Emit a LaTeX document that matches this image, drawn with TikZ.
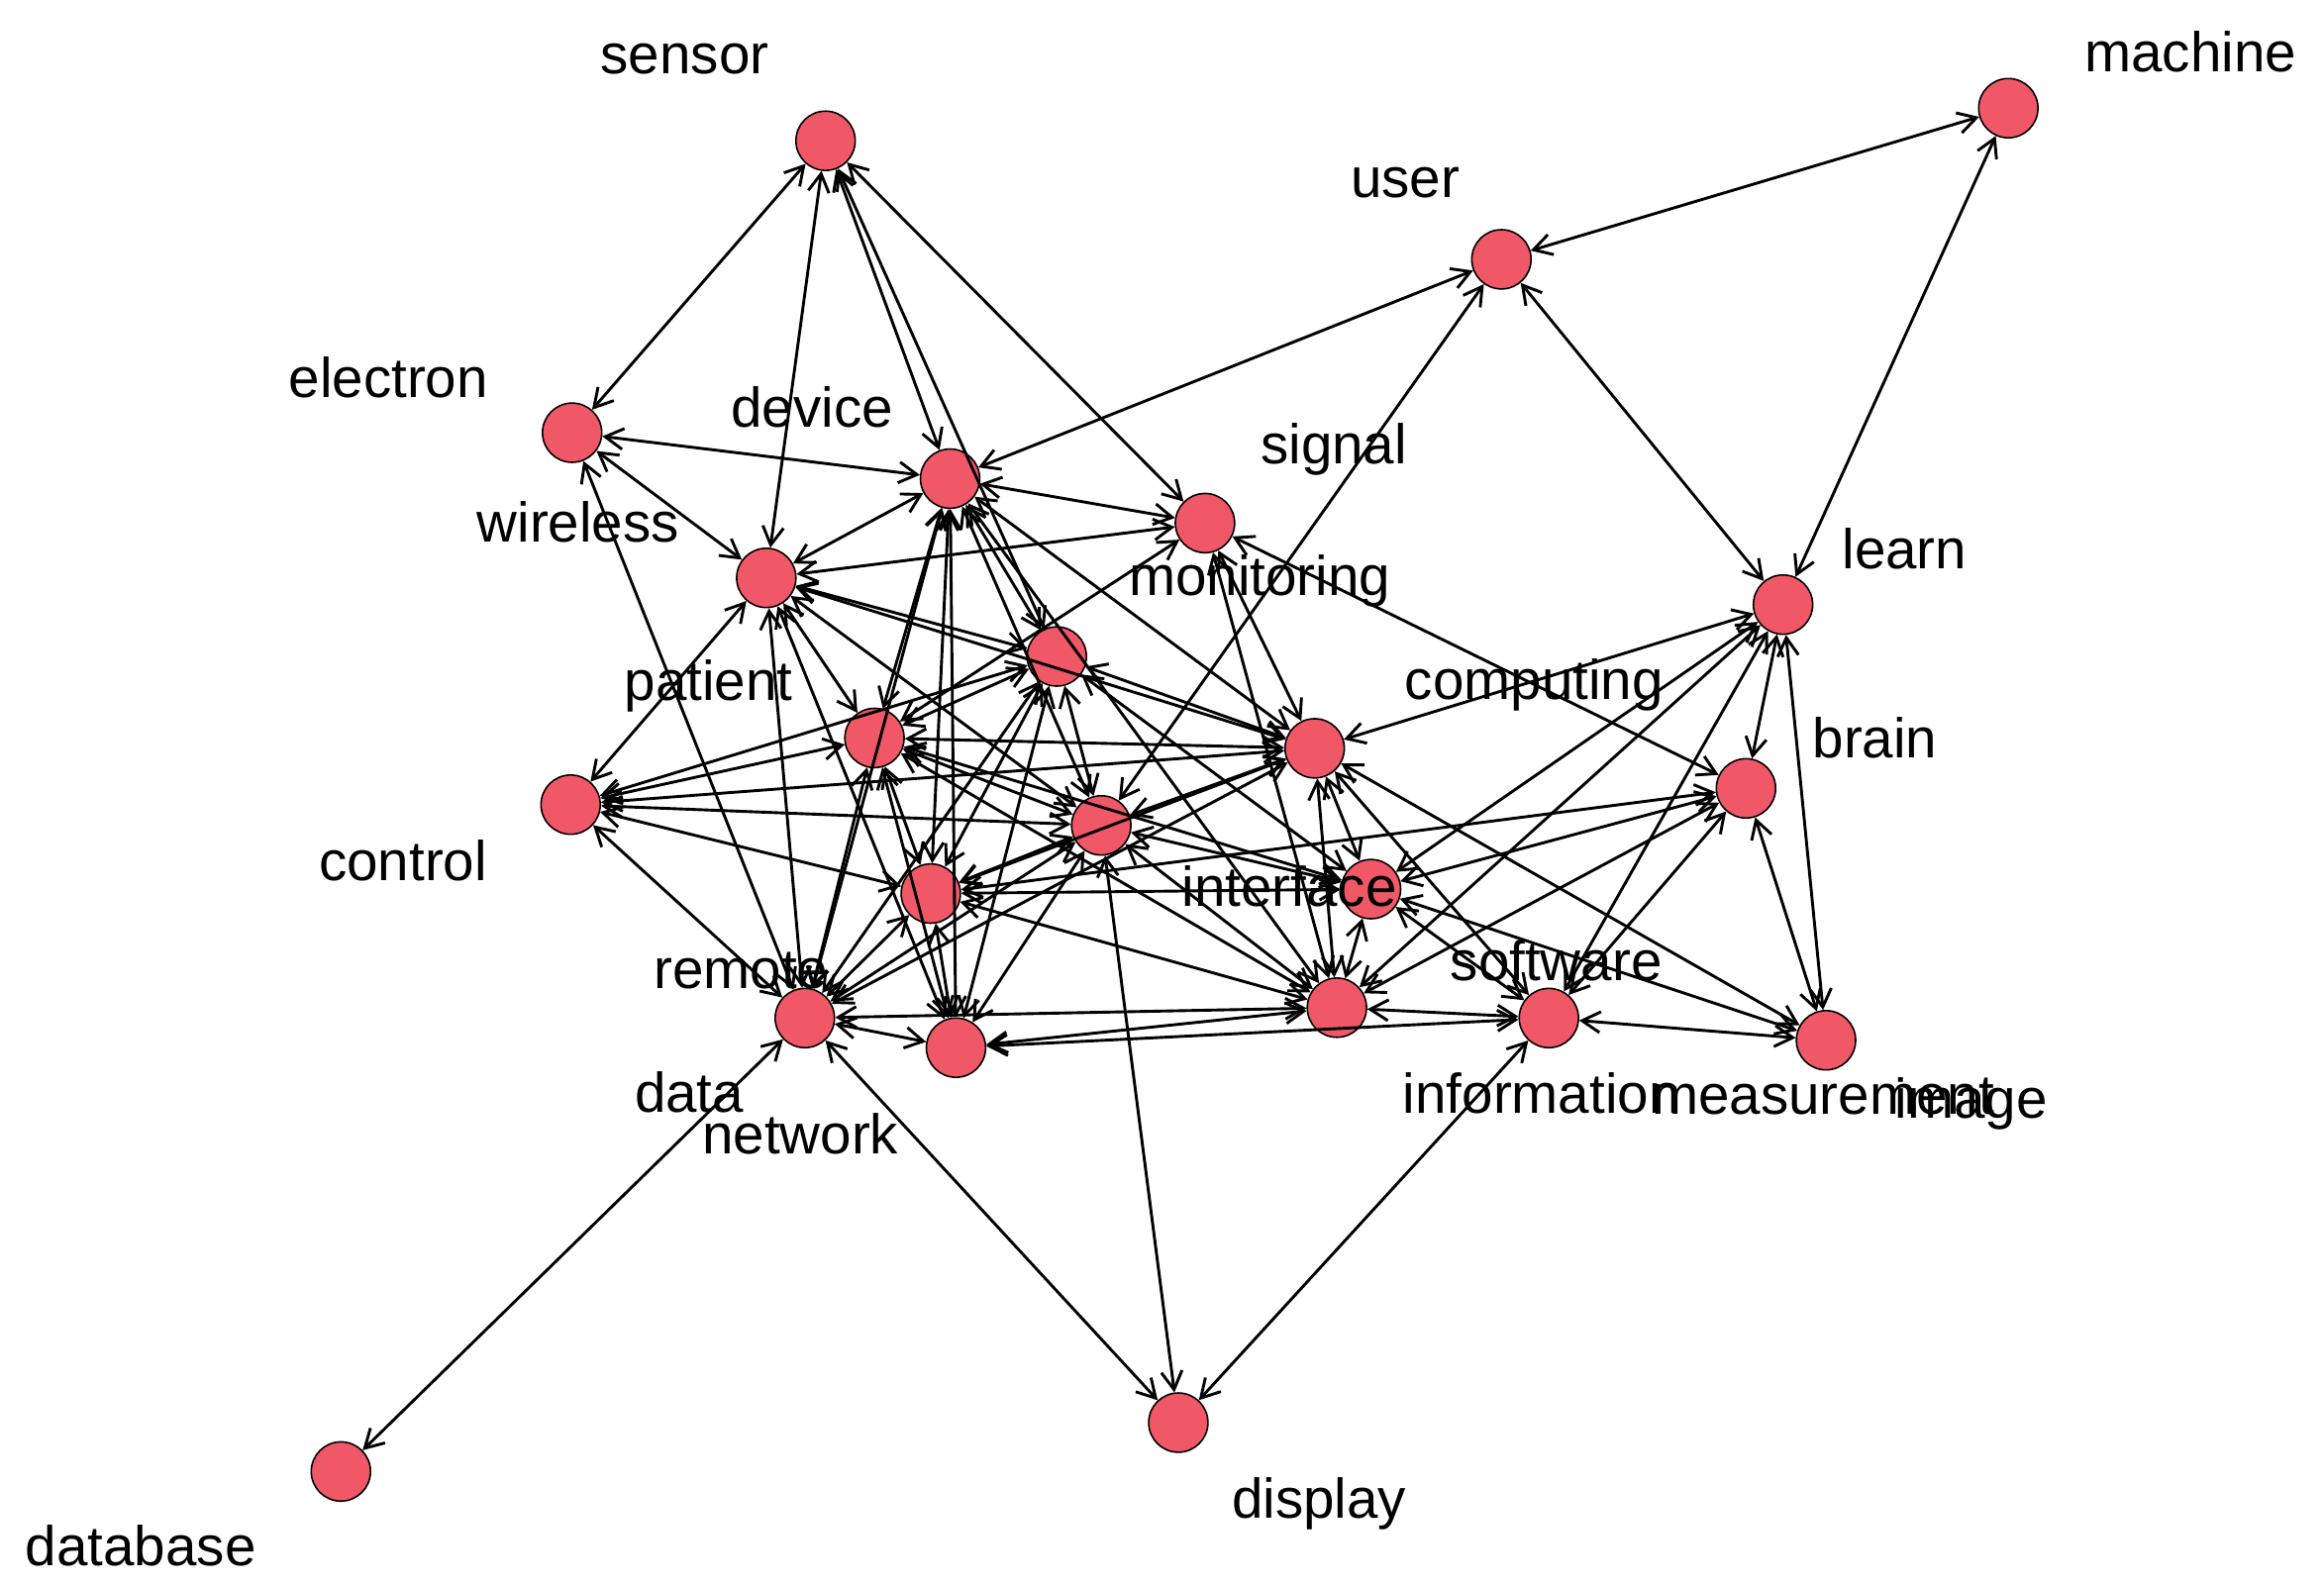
\documentclass[tikz,border=0pt]{standalone}
\usepackage{fontspec}
\setmainfont{Liberation Sans}
\usetikzlibrary{arrows.meta}
\begin{document}
\begin{tikzpicture}[x=0.02cm,y=-0.02cm,
 v/.style={circle,draw=black,line width=0.6pt,fill={rgb,255:red,240;green,88;blue,104},minimum size=0.8cm,inner sep=0pt},
 lab/.style={font=\fontsize{21.5}{25}\selectfont,inner sep=0pt},
 e/.style={<->,>={Straight Barb[length=7pt,width=8pt]},line width=1.1pt}]
\useasboundingbox (0,0) rectangle (1568,1070);
\foreach \n/\x/\y in {sen/557/95,mac/1355/73,usr/1013/175,ele/386/292,dev/641/323,sig/813/353,wir/517/390,mon/713/443,lea/1203/408,pat/590/498,com/887/505,bra/1178/532,con/385/543,A/743/557,B/628/603,int/925/600,rem/543/687,net/645/707,inf/902/680,sof/1045/687,mea/1232/702,dtb/230/993,dis/795/960}
  \node[v] (\n) at (\x,\y) {};
\foreach \a/\b in {sen/ele,sen/wir,sen/dev,sen/mon,sen/sig,mac/usr,mac/lea,usr/dev,usr/lea,usr/A,
 ele/dev,ele/wir,ele/rem,dev/sig,dev/wir,dev/mon,dev/pat,dev/B,dev/net,dev/com,dev/rem,dev/A,dev/inf,
 sig/wir,sig/com,sig/pat,sig/inf,sig/bra,wir/mon,wir/pat,wir/con,wir/A,wir/rem,wir/net,wir/com,
 mon/pat,mon/com,mon/B,mon/rem,mon/int,mon/net,mon/con,mon/A,lea/com,lea/bra,lea/mea,lea/int,lea/sof,lea/inf,
 pat/com,pat/con,pat/A,pat/B,pat/rem,pat/net,pat/int,pat/inf,com/A,com/B,com/int,com/inf,com/sof,com/rem,com/mea,com/con,
 bra/B,bra/sof,bra/inf,bra/mea,bra/int,con/A,con/B,con/rem,A/B,A/rem,A/net,A/int,A/inf,A/dis,
 B/rem,B/net,B/int,B/inf,int/sof,int/inf,int/mea,rem/net,rem/dtb,rem/dis,rem/inf,net/inf,net/sof,inf/sof,sof/mea,sof/dis}
  \draw[e] (\a) -- (\b);
\foreach \t/\x/\y in {sensor/462/40,machine/1478/35,user/948/123,electron/262/255,device/548/275,signal/900/303,wireless/390/352,monitoring/850/392,learn/1285/370,patient/478/463,computing/1035/462,brain/1265/498,control/272/581,interface/870/598,remote/500/655,software/1050/648,data/465/737,network/540/765,information/1040/738,measurement/1230/740,image/1330/745,database/95/1043,display/890/1015}
  \node[lab] (l\t) at (\x,\y) {\t};
\end{tikzpicture}
\end{document}
